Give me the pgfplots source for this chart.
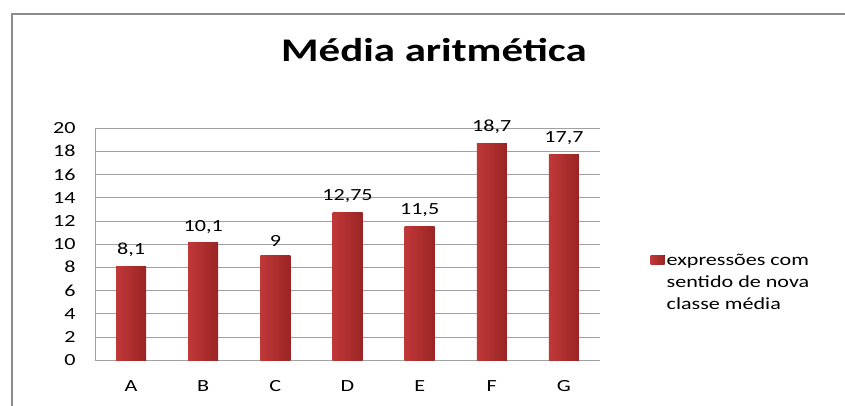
\documentclass[border=0pt]{standalone}
\usepackage{fontspec}
\setmainfont{Carlito}[FakeStretch=1.3]
\usepackage{pgfplots}
\pgfplotsset{compat=1.18}
\definecolor{barL}{HTML}{C03838}
\definecolor{barM}{HTML}{DA4C4C}
\definecolor{barR}{HTML}{9A2424}
\definecolor{frame}{HTML}{8C8C8C}
\definecolor{gridc}{HTML}{A0A0A0}

\begin{document}
\begin{tikzpicture}
\path[use as bounding box] (0pt,0pt) rectangle (845pt,405pt);
\draw[frame, line width=1.5pt] (12pt,-2pt) -- (12pt,391pt) -- (850pt,391pt);
\node[font=\fontsize{33}{36}\selectfont\bfseries] at (434pt,355pt) {Média aritmética};

\begin{axis}[
    at={(95pt,45pt)}, anchor=south west,
    scale only axis, width=505pt, height=232pt,
    xmin=-0.5, xmax=6.5, ymin=0, ymax=20,
    xtick={0,1,2,3,4,5,6},
    xticklabels={A,B,C,D,E,F,G},
    ytick={0,2,...,20},
    axis x line=bottom, axis y line=left,
    axis line style={-, gridc},
    major tick length=0pt,
    ymajorgrids, grid style={gridc, line width=0.6pt},
    ticklabel style={font=\fontsize{17}{20}\selectfont},
    /pgf/number format/assume math mode=true,
    xticklabel style={yshift=-17pt},
    yticklabel style={xshift=-16pt},
    bar shift=0pt,
    every axis plot/.append style={ybar, bar width=30pt, draw=none,
        left color=barL, middle color=barM, right color=barR},
    nodes near coords,
    nodes near coords style={font=\fontsize{17}{20}\selectfont, yshift=6pt,
        /pgf/number format/use comma, /pgf/number format/precision=2,
        /pgf/number format/assume math mode=true},
    legend style={draw=none, fill=none, at={(1.094,0.475)}, anchor=north west,
        cells={align=left}, font=\fontsize{17}{22}\selectfont},
]
\addplot[legend image code/.code={\fill[left color=barL, middle color=barM, right color=barR] (-3pt,18pt) rectangle (11pt,27pt);}]
    coordinates {(0,8.1)};
\addlegendentry{expressões com\\sentido de nova\\classe média}
\addplot[forget plot] coordinates {(1,10.1)};
\addplot[forget plot] coordinates {(2,9)};
\addplot[forget plot] coordinates {(3,12.75)};
\addplot[forget plot] coordinates {(4,11.5)};
\addplot[forget plot] coordinates {(5,18.7)};
\addplot[forget plot] coordinates {(6,17.7)};
\end{axis}
\end{tikzpicture}
\end{document}
